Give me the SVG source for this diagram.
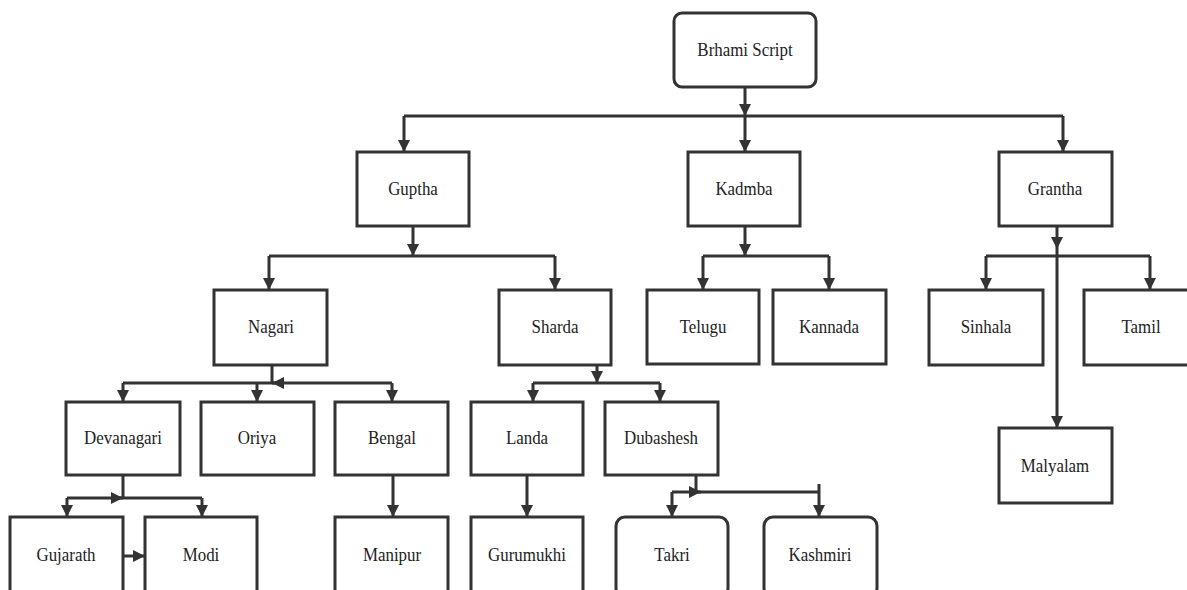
<svg xmlns="http://www.w3.org/2000/svg" width="1187" height="590" viewBox="0 0 1187 590">
<style>
.box{fill:#fff;stroke:#333;stroke-width:3}
.ln{fill:none;stroke:#333;stroke-width:3}
.arr{marker-end:url(#ah)}
text{font-family:"Liberation Serif","Times New Roman",serif;font-size:19px;fill:#222;text-anchor:middle}
</style>
<defs>
<marker id="ah" markerUnits="userSpaceOnUse" markerWidth="12" markerHeight="12" refX="12" refY="6" orient="auto">
<path d="M0,0 L12,6 L0,12 z" fill="#333"/>
</marker>
</defs>
<rect width="1187" height="590" fill="#fff"/>
<g id="connectors">
<path class="ln arr" d="M745,87 V116"/>
<path class="ln" d="M404,116 H1063"/>
<path class="ln arr" d="M404,116 V152"/>
<path class="ln arr" d="M745,116 V152"/>
<path class="ln arr" d="M1063,116 V152"/>
<path class="ln arr" d="M413,226 V256"/>
<path class="ln" d="M269,256 H555"/>
<path class="ln arr" d="M269,256 V290"/>
<path class="ln arr" d="M555,256 V290"/>
<path class="ln arr" d="M745,226 V256"/>
<path class="ln" d="M703,256 H829"/>
<path class="ln arr" d="M703,256 V290"/>
<path class="ln arr" d="M829,256 V290"/>
<path class="ln arr" d="M1057,226 V249"/>
<path class="ln" d="M986,256 H1150"/>
<path class="ln arr" d="M986,256 V290"/>
<path class="ln arr" d="M1150,256 V290"/>
<path class="ln arr" d="M1057,249 V428"/>
<path class="ln" d="M272,365 V383"/>
<path class="ln" d="M123,383 H392"/>
<path class="ln arr" d="M284,383 H272"/>
<path class="ln arr" d="M123,383 V402"/>
<path class="ln arr" d="M257,383 V402"/>
<path class="ln arr" d="M392,383 V402"/>
<path class="ln arr" d="M597,365 V383"/>
<path class="ln" d="M533,383 H660"/>
<path class="ln arr" d="M533,383 V402"/>
<path class="ln arr" d="M660,383 V402"/>
<path class="ln" d="M123,475 V498"/>
<path class="ln" d="M67,498 H202"/>
<path class="ln arr" d="M111,498 H123"/>
<path class="ln arr" d="M67,498 V517"/>
<path class="ln arr" d="M202,498 V517"/>
<path class="ln arr" d="M123,556 H145"/>
<path class="ln arr" d="M393,475 V517"/>
<path class="ln arr" d="M527,475 V517"/>
<path class="ln" d="M696,475 V492"/>
<path class="ln" d="M672,492 H819 M819,484 V492"/>
<path class="ln arr" d="M689,492 H701"/>
<path class="ln arr" d="M672,492 V517"/>
<path class="ln arr" d="M819,492 V517"/>
</g>
<g id="brhami"><rect class="box" x="674" y="13" width="142" height="74" rx="8"/><text transform="translate(745,56) scale(0.89,1)">Brhami Script</text></g>
<g id="guptha"><rect class="box" x="357" y="152" width="112" height="74"/><text transform="translate(413,195) scale(0.89,1)">Guptha</text></g>
<g id="kadmba"><rect class="box" x="688" y="152" width="112" height="74"/><text transform="translate(744,195) scale(0.89,1)">Kadmba</text></g>
<g id="grantha"><rect class="box" x="999" y="152" width="113" height="74"/><text transform="translate(1055,195) scale(0.89,1)">Grantha</text></g>
<g id="nagari"><rect class="box" x="214" y="290" width="113" height="75"/><text transform="translate(271,333) scale(0.89,1)">Nagari</text></g>
<g id="sharda"><rect class="box" x="499" y="290" width="112" height="75"/><text transform="translate(555,333) scale(0.89,1)">Sharda</text></g>
<g id="telugu"><rect class="box" x="647" y="290" width="112" height="74"/><text transform="translate(703,333) scale(0.89,1)">Telugu</text></g>
<g id="kannada"><rect class="box" x="773" y="290" width="113" height="74"/><text transform="translate(829,333) scale(0.89,1)">Kannada</text></g>
<g id="sinhala"><rect class="box" x="929" y="290" width="114" height="75"/><text transform="translate(986,333) scale(0.89,1)">Sinhala</text></g>
<g id="tamil"><rect class="box" x="1084" y="290" width="112" height="75"/><text transform="translate(1141,333) scale(0.89,1)">Tamil</text></g>
<g id="devanagari"><rect class="box" x="66" y="402" width="114" height="73"/><text transform="translate(123,444) scale(0.89,1)">Devanagari</text></g>
<g id="oriya"><rect class="box" x="201" y="402" width="113" height="73"/><text transform="translate(257,444) scale(0.89,1)">Oriya</text></g>
<g id="bengal"><rect class="box" x="335" y="402" width="113" height="73"/><text transform="translate(392,444) scale(0.89,1)">Bengal</text></g>
<g id="landa"><rect class="box" x="471" y="402" width="112" height="73"/><text transform="translate(527,444) scale(0.89,1)">Landa</text></g>
<g id="dubashesh"><rect class="box" x="605" y="402" width="113" height="73"/><text transform="translate(661,444) scale(0.89,1)">Dubashesh</text></g>
<g id="malyalam"><rect class="box" x="999" y="428" width="113" height="75"/><text transform="translate(1055,472) scale(0.89,1)">Malyalam</text></g>
<g id="gujarath"><rect class="box" x="10" y="517" width="113" height="80"/><text transform="translate(66,561) scale(0.89,1)">Gujarath</text></g>
<g id="modi"><rect class="box" x="145" y="517" width="112" height="80"/><text transform="translate(201,561) scale(0.89,1)">Modi</text></g>
<g id="manipur"><rect class="box" x="335" y="517" width="113" height="80"/><text transform="translate(392,561) scale(0.89,1)">Manipur</text></g>
<g id="gurumukhi"><rect class="box" x="471" y="517" width="112" height="80"/><text transform="translate(527,561) scale(0.89,1)">Gurumukhi</text></g>
<g id="takri"><rect class="box" x="616" y="517" width="112" height="80" rx="9"/><text transform="translate(672,561) scale(0.89,1)">Takri</text></g>
<g id="kashmiri"><rect class="box" x="764" y="517" width="113" height="80" rx="9"/><text transform="translate(820,561) scale(0.89,1)">Kashmiri</text></g>
</svg>
